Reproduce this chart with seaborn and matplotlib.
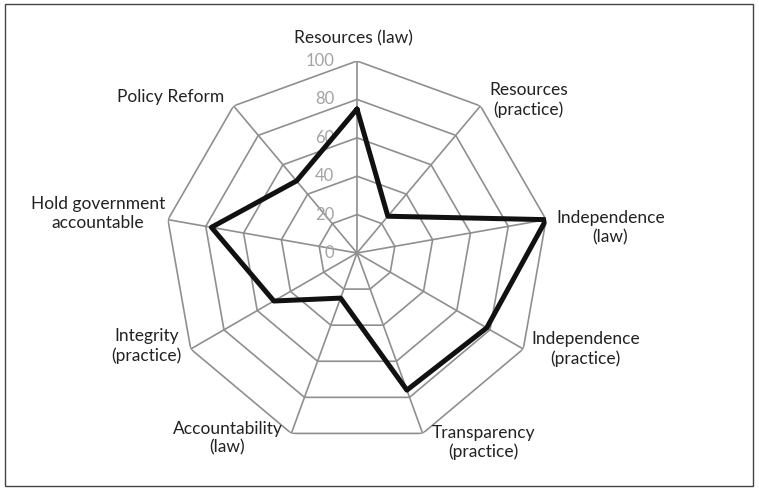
import numpy as np
import seaborn as sns
import matplotlib.pyplot as plt
from matplotlib.patches import Rectangle

# Categories clockwise from top
categories = ['Resources (law)', 'Resources\n(practice)', 'Independence\n(law)',
              'Independence\n(practice)', 'Transparency\n(practice)', 'Accountability\n(law)',
              'Integrity\n(practice)', 'Hold government\naccountable', 'Policy Reform']
scores = [75, 25, 100, 78, 76, 25, 50, 77, 49]
ring_values = [0, 20, 40, 60, 80, 100]

# label placement (offset in px from the outer vertex, alignment)
label_style = [
    (-4, 23, 'center'), (9, 6, 'left'), (10, -8, 'left'),
    (8, 0, 'left'), (9, -9, 'left'), (-9, -5, 'right'),
    (-9, 3, 'right'), (-3, 6, 'right'), (-9, 9, 'right'),
]

sns.set_theme(style="white")
plt.rcParams['font.family'] = ['Lato', 'DejaVu Sans']

fig = plt.figure(figsize=(7.59, 4.90), dpi=100)
ax = fig.add_axes([165 / 759, (490 - 253 - 192) / 490, 384 / 759, 384 / 490], projection='polar')
ax.set_theta_zero_location('N')
ax.set_theta_direction(-1)
ax.set_ylim(0, 100)
ax.grid(False)
ax.spines['polar'].set_visible(False)
ax.set_xticks([])
ax.set_yticks([])
ax.set_facecolor('none')

n = len(categories)
theta = np.linspace(0, 2 * np.pi, n, endpoint=False)
theta_closed = np.append(theta, theta[0])

grid_col = '#8f8f8f'
# polygon rings
for rv in ring_values[1:]:
    ax.plot(theta_closed, [rv] * (n + 1), color=grid_col, lw=1.2, zorder=1)
# spokes
for t in theta:
    ax.plot([t, t], [0, 100], color=grid_col, lw=1.2, zorder=1)

# ring value labels along the top spoke
for rv in ring_values:
    ax.annotate(str(rv), xy=(0, rv), xytext=(-16.5, 0), textcoords='offset points',
                ha='right', va='center', fontsize=12, color='#a3a3a3')

# data line
sns.lineplot(x=np.append(theta, theta[0]), y=np.append(scores, scores[0]), sort=False,
             estimator=None, color='#111111', lw=3.6, ax=ax, zorder=3)
ax.set_xlabel('')
ax.set_ylabel('')

px = 72 / 100
for t, lab, (dx, dy, ha) in zip(theta, categories, label_style):
    ax.annotate(lab, xy=(t, 100), xytext=(dx * px, dy * px), textcoords='offset points',
                ha=ha, va='center', fontsize=12.5, color='#222222', multialignment='center',
                linespacing=1.2, annotation_clip=False)

fig.patches.append(Rectangle((5 / 759, 4 / 490), 748 / 759, 482 / 490, transform=fig.transFigure,
                             fill=False, edgecolor='#444444', lw=1.0))

fig.savefig('out.png', dpi=100)
